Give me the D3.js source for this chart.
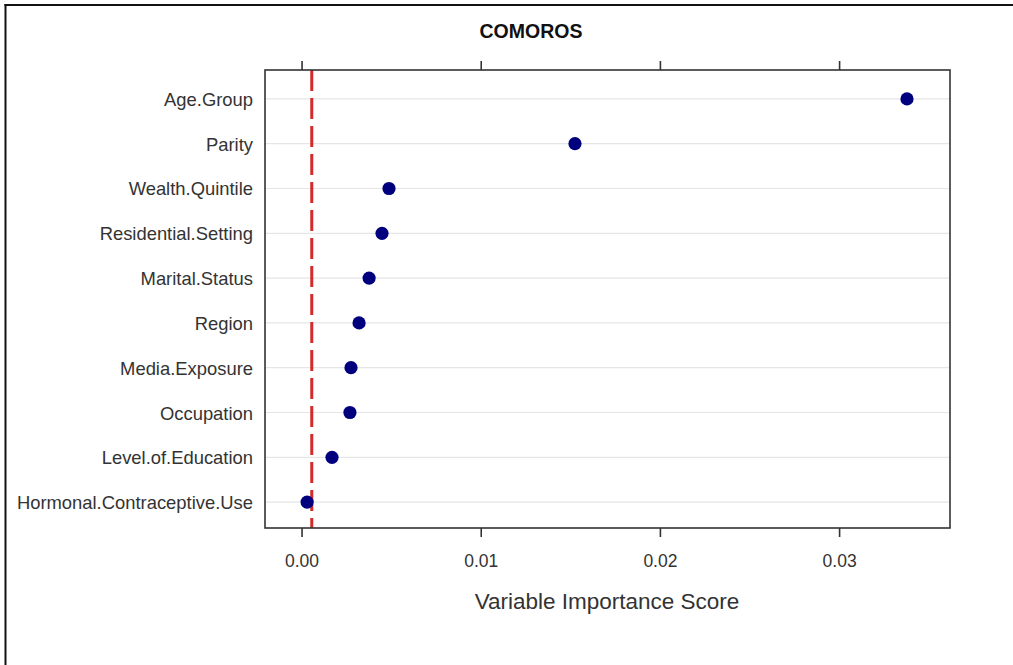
<!DOCTYPE html>
<html><head><meta charset="utf-8">
<script src="https://cdn.jsdelivr.net/npm/d3@7"></script>
<style>body{margin:0;background:#fff;} svg{display:block;}</style>
</head><body>
<svg id="c" width="1013" height="665"></svg>
<script>
const title = "COMOROS";
const categories = ["Age.Group","Parity","Wealth.Quintile","Residential.Setting","Marital.Status","Region","Media.Exposure","Occupation","Level.of.Education","Hormonal.Contraceptive.Use"];
const scores = [0.03379,0.01526,0.00488,0.00449,0.00377,0.00321,0.00276,0.00270,0.00170,0.00031];
const threshold = 0.00057;
const tickValues = [0,0.01,0.02,0.03];
const tickLabels = ["0.00","0.01","0.02","0.03"];
const xTitle = "Variable Importance Score";

const svg = d3.select("#c");
const font = "'Liberation Sans', Arial, sans-serif";
const L = 265, R = 950, T = 70, B = 528;

// outer frame (left & top)
svg.append("line").attr("x1",5.5).attr("x2",5.5).attr("y1",4).attr("y2",665).attr("stroke","#111").attr("stroke-width",2);
svg.append("line").attr("x1",4.5).attr("x2",1013).attr("y1",5).attr("y2",5).attr("stroke","#111").attr("stroke-width",2);

const x = d3.scaleLinear().domain([-0.00204, 0.03619]).range([L, R]);
const y = d3.scalePoint().domain(categories).range([T + 2, B + 1]).padding(0.6);

// grid
svg.append("g").selectAll("line").data(categories).join("line")
  .attr("x1",L).attr("x2",R).attr("y1",d=>y(d)).attr("y2",d=>y(d))
  .attr("stroke","#e6e6e6").attr("stroke-width",1.2);

// threshold line
svg.append("line").attr("x1",x(threshold)).attr("x2",x(threshold)).attr("y1",T).attr("y2",B)
  .attr("stroke","#d42a2a").attr("stroke-width",3).attr("stroke-dasharray","21,7");

// points
svg.append("g").selectAll("circle").data(categories).join("circle")
  .attr("cx",(d,i)=>x(scores[i])).attr("cy",d=>y(d)).attr("r",6.6).attr("fill","#00007f");

// panel border
svg.append("rect").attr("x",L).attr("y",T).attr("width",R-L).attr("height",B-T)
  .attr("fill","none").attr("stroke","#333").attr("stroke-width",1.6);

// bottom axis
const xb = d3.axisBottom(x).tickValues(tickValues).tickFormat((d,i)=>tickLabels[i]).tickSize(9).tickPadding(18);
const gb = svg.append("g").attr("transform",`translate(0,${B})`).call(xb);
gb.select(".domain").remove();
gb.selectAll(".tick line").attr("stroke","#333").attr("stroke-width",1.6);
gb.selectAll(".tick text").attr("font-family",font).attr("font-size",17.5).attr("fill","#333");

// top axis ticks
const xt = d3.axisTop(x).tickValues(tickValues).tickFormat("").tickSize(9);
const gt = svg.append("g").attr("transform",`translate(0,${T})`).call(xt);
gt.select(".domain").remove();
gt.selectAll(".tick line").attr("stroke","#333").attr("stroke-width",1.6);

// y labels
svg.append("g").selectAll("text").data(categories).join("text")
  .attr("x",253).attr("y",d=>y(d)).attr("dy","0.38em").attr("text-anchor","end")
  .attr("font-family",font).attr("font-size",18.4).attr("fill","#333").text(d=>d);

// title
svg.append("text").attr("x",531).attr("y",38).attr("text-anchor","middle")
  .attr("font-family",font).attr("font-weight","bold").attr("font-size",19.5).attr("fill","#111").text(title);

// x title
svg.append("text").attr("x",607).attr("y",609).attr("text-anchor","middle")
  .attr("font-family",font).attr("font-size",22.5).attr("fill","#333").text(xTitle);
</script>
</body></html>
